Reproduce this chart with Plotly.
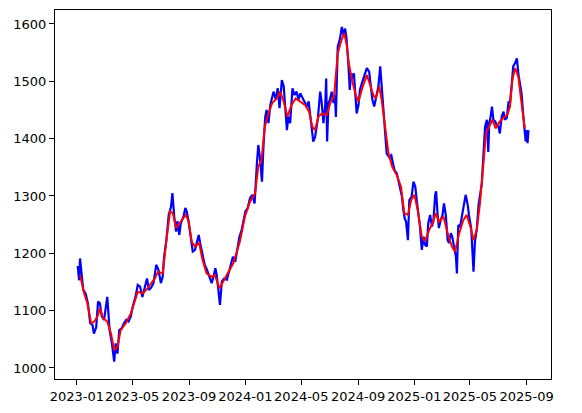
import plotly.graph_objects as go

price_dates = [
 "2023-01-03","2023-01-06","2023-01-08","2023-01-13","2023-01-15","2023-01-20","2023-01-25","2023-01-30",
 "2023-02-04","2023-02-07","2023-02-12","2023-02-16","2023-02-20","2023-02-24","2023-03-01","2023-03-05",
 "2023-03-08","2023-03-10","2023-03-13","2023-03-18","2023-03-23","2023-03-26","2023-03-30","2023-04-03",
 "2023-04-08","2023-04-13","2023-04-18","2023-04-23","2023-04-28","2023-05-02","2023-05-08","2023-05-13",
 "2023-05-18","2023-05-23","2023-05-28","2023-06-02","2023-06-06","2023-06-11","2023-06-16","2023-06-22",
 "2023-06-27","2023-07-02","2023-07-06","2023-07-09","2023-07-14","2023-07-19","2023-07-24","2023-07-27",
 "2023-07-31","2023-08-04","2023-08-07","2023-08-11","2023-08-14","2023-08-20","2023-08-24","2023-08-27",
 "2023-08-31","2023-09-05","2023-09-09","2023-09-14","2023-09-18","2023-09-22","2023-09-25","2023-09-30",
 "2023-10-05","2023-10-10","2023-10-15","2023-10-20","2023-10-24","2023-10-28","2023-10-31","2023-11-04",
 "2023-11-07","2023-11-11","2023-11-16","2023-11-22","2023-11-29","2023-12-05","2023-12-10","2023-12-15",
 "2023-12-19","2023-12-24","2024-01-01","2024-01-06","2024-01-11","2024-01-16","2024-01-21","2024-01-26",
 "2024-01-29","2024-02-02","2024-02-06","2024-02-09","2024-02-13","2024-02-16","2024-02-20","2024-02-24",
 "2024-02-27","2024-03-02","2024-03-07","2024-03-11","2024-03-15","2024-03-20","2024-03-24","2024-03-27",
 "2024-03-31","2024-04-03","2024-04-07","2024-04-12","2024-04-16","2024-04-21","2024-04-25","2024-04-29",
 "2024-05-06","2024-05-13","2024-05-17","2024-05-22","2024-05-27","2024-05-31","2024-06-06","2024-06-11",
 "2024-06-14","2024-06-18","2024-06-22","2024-06-24","2024-06-26","2024-06-29","2024-07-02","2024-07-06",
 "2024-07-10","2024-07-13","2024-07-15","2024-07-19","2024-07-24","2024-07-28","2024-07-31","2024-08-04",
 "2024-08-07","2024-08-11","2024-08-14","2024-08-17","2024-08-20","2024-08-23","2024-08-26","2024-08-29",
 "2024-09-02","2024-09-05","2024-09-09","2024-09-15","2024-09-20","2024-09-25","2024-09-29","2024-10-02",
 "2024-10-06","2024-10-12","2024-10-15","2024-10-19","2024-10-22","2024-10-26","2024-10-30","2024-11-02",
 "2024-11-07","2024-11-12","2024-11-14","2024-11-19","2024-11-24","2024-11-27","2024-12-01","2024-12-05",
 "2024-12-08","2024-12-11","2024-12-14","2024-12-18","2024-12-21","2024-12-26","2024-12-30","2025-01-03",
 "2025-01-06","2025-01-10","2025-01-13","2025-01-17","2025-01-21","2025-01-24","2025-01-28","2025-01-31",
 "2025-02-04","2025-02-08","2025-02-11","2025-02-15","2025-02-17","2025-02-20","2025-02-23","2025-02-27",
 "2025-03-03","2025-03-06","2025-03-10","2025-03-14","2025-03-17","2025-03-21","2025-03-24","2025-03-29",
 "2025-04-01","2025-04-03","2025-04-06","2025-04-10","2025-04-14","2025-04-17","2025-04-22","2025-04-27",
 "2025-04-29","2025-05-04","2025-05-09","2025-05-12","2025-05-16","2025-05-20","2025-05-23","2025-05-27",
 "2025-05-29","2025-06-01","2025-06-03","2025-06-07","2025-06-10","2025-06-12","2025-06-15","2025-06-18",
 "2025-06-21","2025-06-25","2025-06-28","2025-07-02","2025-07-05","2025-07-09","2025-07-13","2025-07-16",
 "2025-07-20","2025-07-24","2025-07-27","2025-07-31","2025-08-03","2025-08-07","2025-08-11","2025-08-14",
 "2025-08-18","2025-08-21","2025-08-25","2025-08-27","2025-08-30","2025-09-01","2025-09-03","2025-09-05",
]
price_values = [
 1178,1153,1191,1150,1136,1130,1113,1078,
 1075,1060,1071,1116,1113,1090,1084,1107,
 1124,1101,1066,1043,1011,1043,1025,1066,
 1069,1078,1084,1081,1090,1107,1124,1145,
 1142,1124,1142,1156,1136,1140,1148,1180,
 1171,1148,1159,1194,1223,1267,1281,1305,
 1264,1238,1256,1232,1252,1264,1279,1273,
 1256,1230,1203,1206,1220,1232,1218,1197,
 1180,1171,1159,1148,1159,1174,1162,1130,
 1110,1151,1156,1154,1177,1194,1185,1206,
 1228,1241,1273,1279,1296,1302,1287,1357,
 1389,1363,1325,1384,1438,1450,1427,1459,
 1468,1482,1468,1488,1453,1502,1491,1456,
 1415,1438,1427,1488,1476,1482,1468,1479,
 1468,1456,1465,1433,1395,1403,1435,1482,
 1465,1427,1459,1505,1395,1462,1468,1482,
 1462,1476,1438,1560,1575,1595,1581,1592,
 1575,1531,1485,1514,1505,1514,1473,1444,
 1459,1485,1496,1511,1523,1517,1485,1468,
 1456,1482,1491,1526,1491,1450,1415,1374,
 1368,1371,1363,1345,1339,1328,1319,1299,
 1276,1261,1255,1223,1293,1299,1325,1316,
 1293,1270,1247,1206,1229,1215,1212,1252,
 1267,1247,1255,1302,1308,1270,1244,1258,
 1267,1287,1267,1223,1218,1235,1229,1206,
 1194,1165,1249,1247,1264,1276,1302,1282,
 1267,1244,1168,1220,1241,1285,1299,1322,
 1351,1398,1421,1433,1377,1427,1438,1456,
 1433,1430,1424,1421,1409,1438,1447,1433,
 1436,1465,1462,1497,1526,1532,1540,1514,
 1491,1479,1438,1415,1395,1415,1392,1415,
]

avg_dates = [
 "2023-01-08","2023-01-17","2023-01-24","2023-02-01","2023-02-08","2023-02-15","2023-02-20","2023-02-27",
 "2023-03-08","2023-03-16","2023-03-23","2023-03-30","2023-04-06","2023-04-17","2023-04-28","2023-05-13",
 "2023-05-24","2023-06-03","2023-06-14","2023-06-19","2023-06-26","2023-07-06","2023-07-15","2023-07-22",
 "2023-07-28","2023-08-04","2023-08-11","2023-08-20","2023-08-25","2023-08-31","2023-09-07","2023-09-14",
 "2023-09-23","2023-09-30","2023-10-09","2023-10-20","2023-10-27","2023-11-06","2023-11-14","2023-11-25",
 "2023-12-06","2023-12-20","2023-12-31","2024-01-11","2024-01-22","2024-01-29","2024-02-05","2024-02-12",
 "2024-02-20","2024-02-28","2024-03-09","2024-03-16","2024-03-23","2024-04-01","2024-04-10","2024-04-19",
 "2024-04-28","2024-05-09","2024-05-18","2024-05-25","2024-05-31","2024-06-07","2024-06-15","2024-06-25",
 "2024-07-04","2024-07-11","2024-07-19","2024-07-26","2024-08-02","2024-08-07","2024-08-12","2024-08-19",
 "2024-08-27","2024-09-02","2024-09-10","2024-09-20","2024-09-27","2024-10-04","2024-10-09","2024-10-17",
 "2024-10-22","2024-10-30","2024-11-06","2024-11-14","2024-11-24","2024-12-03","2024-12-10","2024-12-18",
 "2024-12-25","2025-01-01","2025-01-08","2025-01-17","2025-01-24","2025-02-02","2025-02-09","2025-02-16",
 "2025-02-23","2025-03-05","2025-03-14","2025-03-23","2025-03-30","2025-04-07","2025-04-17","2025-04-24",
 "2025-05-02","2025-05-09","2025-05-16","2025-05-23","2025-05-30","2025-06-05","2025-06-12","2025-06-19",
 "2025-06-26","2025-07-05","2025-07-12","2025-07-21","2025-07-27","2025-08-01","2025-08-07","2025-08-14",
 "2025-08-21","2025-08-28",
]
avg_values = [
 1162,1130,1113,1078,1081,1090,1104,1087,
 1081,1060,1031,1037,1066,1078,1095,1133,
 1130,1139,1151,1156,1168,1165,1230,1273,
 1270,1244,1252,1261,1267,1256,1220,1212,
 1218,1189,1165,1159,1162,1139,1151,1168,
 1183,1220,1264,1290,1305,1351,1363,1421,
 1444,1462,1470,1482,1468,1438,1459,1470,
 1465,1459,1447,1421,1415,1438,1444,1441,
 1465,1473,1549,1569,1584,1566,1531,1502,
 1476,1465,1488,1511,1494,1476,1470,1491,
 1468,1415,1374,1351,1336,1316,1270,1267,
 1293,1302,1276,1229,1221,1241,1252,1270,
 1255,1264,1235,1212,1203,1232,1258,1267,
 1247,1223,1241,1287,1360,1409,1421,1433,
 1418,1430,1436,1441,1456,1502,1523,1508,
 1462,1418,
]

x_tick_vals = ["2023-01-01","2023-05-01","2023-09-01","2024-01-01","2024-05-01",
               "2024-09-01","2025-01-01","2025-05-01","2025-09-01"]
x_tick_text = ["2023-01","2023-05","2023-09","2024-01","2024-05",
               "2024-09","2025-01","2025-05","2025-09"]
y_tick_vals = [1000,1100,1200,1300,1400,1500,1600]

fig = go.Figure()
fig.add_trace(go.Scatter(x=price_dates, y=price_values, mode="lines",
                         line=dict(color="#0000ff", width=2.2), name="price"))
fig.add_trace(go.Scatter(x=avg_dates, y=avg_values, mode="lines",
                         line=dict(color="#ff0000", width=2), name="average"))

axis_common = dict(showline=True, linecolor="black", linewidth=1, mirror=True,
                   ticks="outside", ticklen=5, tickwidth=1, tickcolor="black",
                   showgrid=False, zeroline=False, automargin=False, tickangle=0,
                   tickfont=dict(family="DejaVu Sans", size=13, color="black"))
fig.update_xaxes(type="date", range=["2022-11-14 19:00", "2025-10-23 19:00"],
                 tickmode="array", tickvals=x_tick_vals, ticktext=x_tick_text, **axis_common)
fig.update_yaxes(range=[980.8, 1624.4], tickmode="array", tickvals=y_tick_vals,
                 ticktext=[str(v) for v in y_tick_vals], **axis_common)
# the page body adds an 8px offset, so margins are reduced accordingly
fig.update_layout(width=582, height=413, showlegend=False,
                  margin=dict(l=47, r=39, t=2, b=42),
                  paper_bgcolor="white", plot_bgcolor="white")
fig.write_html("out.html")
